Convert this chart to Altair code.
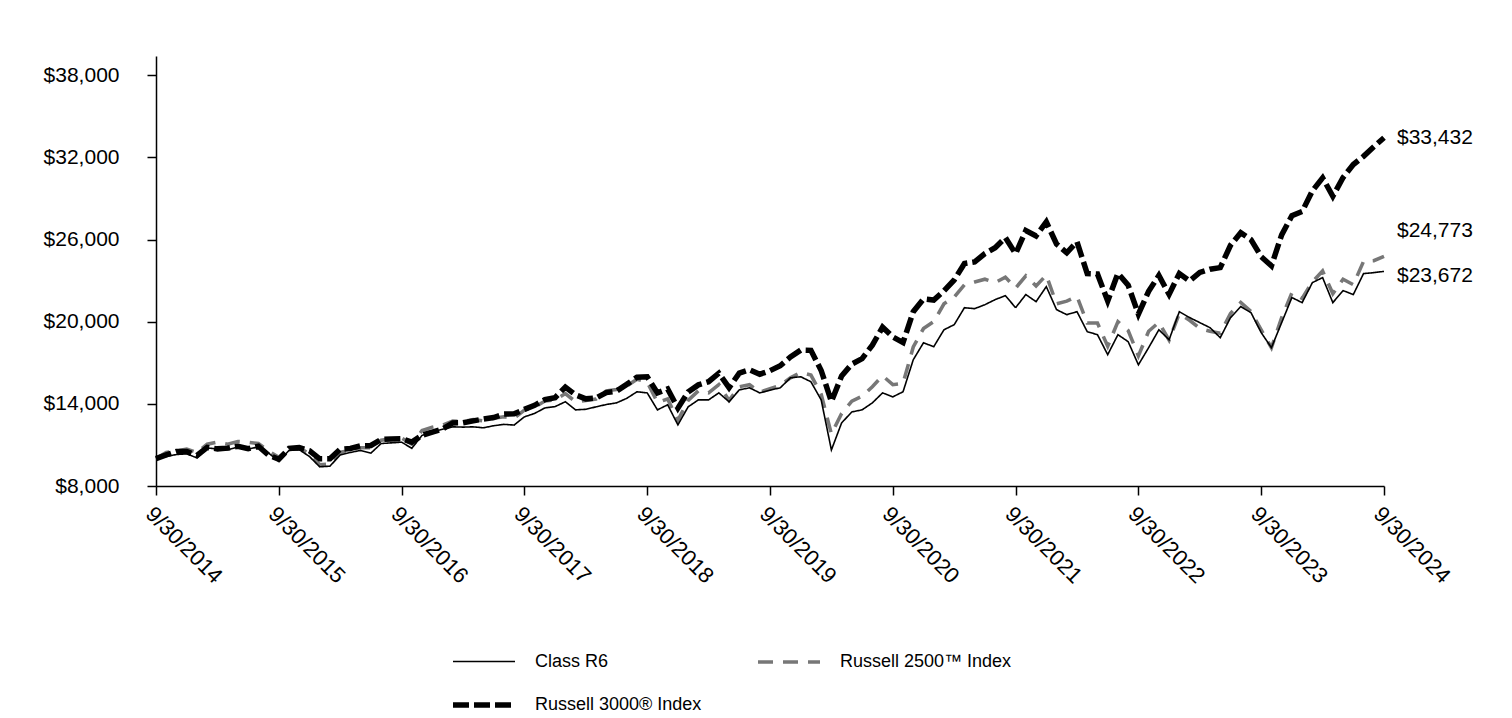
import altair as alt
import pandas as pd

TICK_LABELS = ["9/30/2014", "9/30/2015", "9/30/2016", "9/30/2017", "9/30/2018", "9/30/2019",
               "9/30/2020", "9/30/2021", "9/30/2022", "9/30/2023", "9/30/2024"]
Y_TICKS = [8000, 14000, 20000, 26000, 32000, 38000]
SERIES = ["Class R6", "Russell 2500™ Index", "Russell 3000® Index"]
COLORS = ["#000000", "#777777", "#000000"]

CLASS_R6 = [10000, 10150, 10300, 10350, 10050, 10780, 10700, 10650, 10850, 10700, 10850, 10400,
            9800, 10600, 10650, 10150, 9400, 9450, 10270, 10450, 10600, 10400, 11100, 11150,
            11200, 10750, 11700, 11950, 12150, 12320, 12300, 12320, 12250, 12400, 12500, 12450,
            13050, 13300, 13700, 13800, 14150, 13560, 13600, 13780, 13950, 14070, 14400, 14880,
            14800, 13560, 13930, 12460, 13780, 14290, 14290, 14800, 14150, 15020, 15170, 14800,
            15000, 15170, 15900, 15980, 15610, 14290, 10630, 12610, 13410, 13560, 14070, 14800,
            14510, 14880, 17220, 18460, 18170, 19410, 19780, 21020, 20950, 21240, 21610, 21900,
            21020, 21980, 21460, 22560, 20880, 20510, 20730, 19270, 19050, 17590, 19050, 18540,
            16850, 18100, 19410, 18680, 20730, 20300, 19930, 19560, 18830, 20290, 21100, 20660,
            19200, 18100, 19930, 21760, 21390, 22850, 23220, 21390, 22270, 21980, 23510, 23580,
            23672]

R2500 = [10000, 10450, 10550, 10700, 10450, 11050, 11200, 11050, 11250, 11200, 11100, 10550,
         10100, 10700, 10800, 10350, 9550, 9600, 10450, 10600, 10800, 10800, 11350, 11450,
         11500, 11050, 12050, 12300, 12450, 12750, 12700, 12850, 12750, 12950, 13050, 12950,
         13550, 13750, 14200, 14300, 14750, 14150, 14250, 14350, 14950, 15050, 15300, 15800,
         15600, 14100, 14350, 12800, 14250, 14950, 14800, 15400, 14250, 15250, 15400, 14850,
         15100, 15350, 15900, 16300, 16100, 14700, 11800, 13300, 14200, 14550, 15250, 16050,
         15400, 15500, 18150, 19500, 20000, 21300, 21800, 22700, 22900, 23100, 22850, 23250,
         22450, 23350, 22600, 23400, 21300, 21500, 21850, 19900, 19900, 18200, 20000, 19350,
         17500, 19300, 19950, 18650, 20600, 20100, 19500, 19300, 19150, 20600, 21400, 20750,
         19400, 18100, 20300, 22100, 21700, 22900, 23700, 22050, 23100, 22700, 24400, 24450,
         24773]

R3000 = [10000, 10275, 10522, 10522, 10227, 10820, 10712, 10765, 10905, 10720, 10902, 10248,
         9951, 10737, 10801, 10574, 9982, 9982, 10681, 10745, 10938, 10960, 11399, 11433,
         11456, 11204, 11708, 11931, 12158, 12608, 12620, 12759, 12886, 13002, 13249, 13276,
         13595, 13894, 14311, 14454, 15220, 14657, 14364, 14421, 14825, 14929, 15422, 15946,
         15978, 14796, 15091, 13688, 14865, 15385, 15616, 16240, 15185, 16248, 16492, 16162,
         16420, 16781, 17419, 17924, 17906, 16438, 14169, 16040, 16906, 17295, 18281, 19597,
         18892, 18476, 20730, 21663, 21576, 22245, 23046, 24244, 24365, 24974, 25399, 26136,
         24960, 26657, 26257, 27281, 25671, 25030, 25831, 23506, 23482, 21510, 23532, 22661,
         20554, 22219, 23374, 21995, 23513, 22972, 23592, 23828, 23947, 25575, 26496, 25993,
         24745, 24077, 26340, 27736, 28041, 29555, 30501, 29159, 30529, 31476, 32074, 32779,
         33432]

END_LABELS = ["$23,672", "$24,773", "$33,432"]
END_SHIFT = [5, -25, 0]

FONT = "Liberation Sans"

rows = []
draw_order = [1, 2, 0]  # gray index first, then R3000, solid fund on top
all_vals = [CLASS_R6, R2500, R3000]
for k in draw_order:
    for i, v in enumerate(all_vals[k]):
        rows.append({"series": SERIES[k], "month": i, "value": v, "k": draw_order.index(k)})
df = pd.DataFrame(rows)

label_expr = "[" + ",".join("'" + t + "'" for t in TICK_LABELS) + "][round(datum.value/12)]"

x_enc = alt.X("month:Q",
              scale=alt.Scale(domain=[0, 120], nice=False, zero=False),
              axis=alt.Axis(values=list(range(0, 121, 12)), labelExpr=label_expr,
                            labelAngle=45, labelAlign="left", labelBaseline="top",
                            tickSize=9, labelPadding=8, title=None, grid=False,
                            domainColor="black", tickColor="black", domainWidth=1.5,
                            tickWidth=1.5, labelFontSize=22, labelColor="black",
                            labelFont=FONT, labelOverlap=False))
y_enc = alt.Y("value:Q",
              scale=alt.Scale(domain=[8000, 39400], nice=False, zero=False),
              axis=alt.Axis(values=Y_TICKS, format="$,.0f", tickSize=9, labelPadding=28,
                            title=None, grid=False, domainColor="black", tickColor="black",
                            domainWidth=1.5, tickWidth=1.5, labelFontSize=21,
                            labelColor="black", labelFont=FONT,
                            minExtent=148, maxExtent=148))

legend = alt.Legend(orient="none", legendX=294, legendY=573, columns=2, direction="horizontal",
                    title=None, symbolType="stroke", symbolSize=3844, labelFontSize=18,
                    labelFont=FONT, labelColor="black", columnPadding=48, rowPadding=-23,
                    labelOffset=17, labelLimit=400)

lines = alt.Chart(df).mark_line(strokeCap="butt", strokeJoin="miter").encode(
    x=x_enc,
    y=y_enc,
    color=alt.Color("series:N", scale=alt.Scale(domain=SERIES, range=COLORS), legend=legend),
    strokeDash=alt.StrokeDash("series:N",
                              scale=alt.Scale(domain=SERIES, range=[[1, 0], [15, 10], [16, 5]]),
                              legend=legend),
    strokeWidth=alt.StrokeWidth("series:N",
                                scale=alt.Scale(domain=SERIES, range=[1.6, 5.5, 5]),
                                legend=legend),
    detail="k:N",
)

layers = [lines]
end_vals = [CLASS_R6[-1], R2500[-1], R3000[-1]]
for lab, val, sh in zip(END_LABELS, end_vals, END_SHIFT):
    d = pd.DataFrame({"month": [120], "value": [val], "label": [lab]})
    layers.append(
        alt.Chart(d).mark_text(align="left", baseline="middle", dx=13, dy=sh,
                               fontSize=21, font=FONT, color="black").encode(
            x=alt.X("month:Q"), y=alt.Y("value:Q"), text="label:N")
    )

chart = alt.layer(*layers).properties(
    width=1228, height=430,
    padding={"left": 0, "top": 48, "right": 5, "bottom": 5},
).configure(font=FONT).configure_view(stroke=None)

chart.save("out.html", embed_options={"renderer": "svg", "actions": False})
